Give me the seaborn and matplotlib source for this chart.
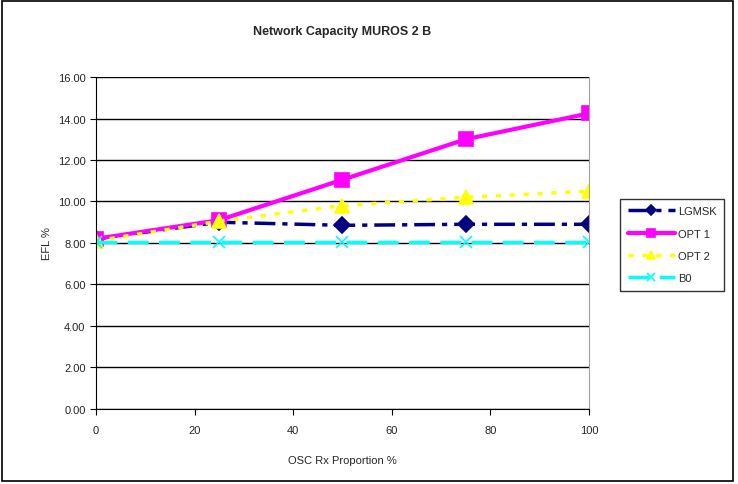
import seaborn as sns
import pandas as pd
from matplotlib import pyplot as plt
from matplotlib.patches import Rectangle

proportion = [0, 25, 50, 75, 100]
lgmsk = [8.2, 9.0, 8.85, 8.9, 8.9]
opt1 = [8.2, 9.1, 11.05, 13.0, 14.25]
opt2 = [8.1, 9.05, 9.8, 10.2, 10.5]
b0 = [8.05, 8.05, 8.05, 8.05, 8.05]

series_names = ['LGMSK', 'OPT 1', 'OPT 2', 'B0']
series_values = [lgmsk, opt1, opt2, b0]

rows = []
for name, vals in zip(series_names, series_values):
    for p, v in zip(proportion, vals):
        rows.append({'Proportion': p, 'EFL': v, 'Series': name})
df = pd.DataFrame(rows)

sns.set_style('white')
plt.rcParams['font.family'] = ['Liberation Sans', 'DejaVu Sans']

styles = {
    'LGMSK': dict(color='#000080', marker='D', markersize=8, lw=2.5, dashes=(6, 2, 1.5, 2)),
    'OPT 1': dict(color='#FF00FF', marker='s', markersize=10, lw=3, dashes=None),
    'OPT 2': dict(color='#FFFF00', marker='^', markersize=10, lw=2.5, dashes=(1.5, 2.5)),
    'B0': dict(color='#00FFFF', marker='x', markersize=9, lw=2.5, dashes=(6, 3)),
}

fig = plt.figure(figsize=(7.38, 4.85), dpi=100)
ax = fig.add_axes([0.130, 0.155, 0.668, 0.684])

for name in series_names:
    st = styles[name]
    sub = df[df['Series'] == name]
    sns.lineplot(x='Proportion', y='EFL', data=sub, ax=ax, color=st['color'], marker=st['marker'],
                 markersize=st['markersize'], linewidth=st['lw'], markeredgecolor=st['color'],
                 markeredgewidth=1.2, label=name)
    if st['dashes'] is not None:
        ax.lines[-1].set_dashes(st['dashes'])

ax.set_xlim(0, 100)
ax.set_ylim(0, 16)
ax.set_xticks([0, 20, 40, 60, 80, 100])
ax.set_yticks([0, 2, 4, 6, 8, 10, 12, 14, 16])
ax.set_yticklabels([f'{v:.2f}' for v in range(0, 17, 2)])
ax.yaxis.grid(True, color='black', linewidth=1)
ax.xaxis.grid(False)
ax.tick_params(axis='both', labelsize=8, length=4, direction='out', color='black',
               bottom=True, left=True)
ax.tick_params(axis='x', pad=8)
ax.spines['top'].set_visible(False)
ax.spines['left'].set_color('black')
ax.spines['bottom'].set_color('black')
ax.spines['right'].set_color('#a0a0a0')
ax.set_xlabel('OSC Rx Proportion %', fontsize=8, labelpad=14)
ax.set_ylabel('EFL %', fontsize=8, labelpad=4)
ax.set_title('Network Capacity MUROS 2 B', fontsize=9, fontweight='bold', pad=31)

leg = ax.legend(loc='upper left', bbox_to_anchor=(0.833, 0.600), bbox_transform=fig.transFigure,
                fontsize=8, frameon=True, fancybox=False, edgecolor='black', handlelength=4.2,
                borderpad=0.7, labelspacing=1.1, handletextpad=0.3, markerscale=0.6)
leg.get_frame().set_linewidth(1)

fig.patches.append(Rectangle((0.003, 0.006), 0.99, 0.99, transform=fig.transFigure,
                             fill=False, edgecolor='black', linewidth=1.2))

plt.savefig('out.png', dpi=100)
